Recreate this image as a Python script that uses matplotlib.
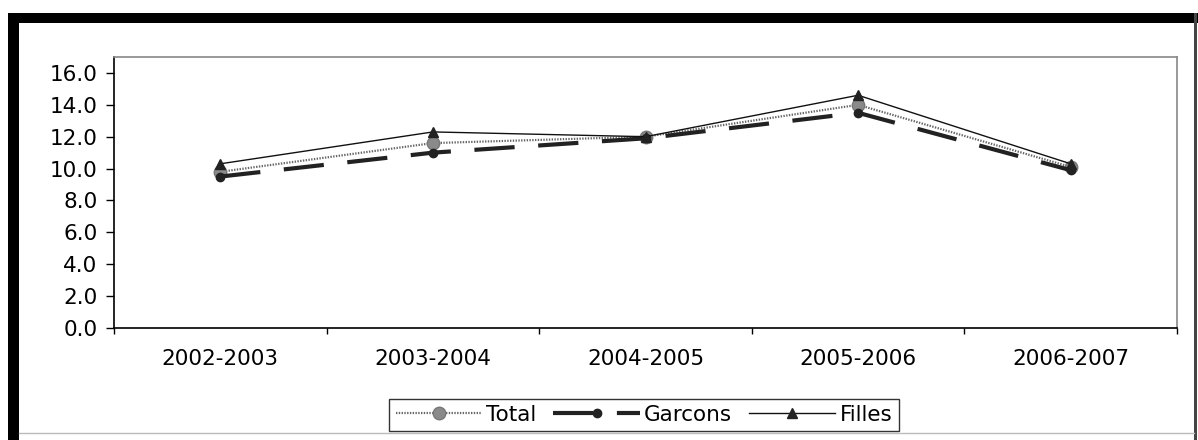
import numpy as np
import matplotlib
matplotlib.use("Agg")
import matplotlib.pyplot as plt
from matplotlib.patches import Rectangle
from matplotlib.lines import Line2D

plt.rcParams['font.family'] = ['DejaVu Sans']
plt.rcParams['lines.scale_dashes'] = False

years = ["2002-2003", "2003-2004", "2004-2005", "2005-2006", "2006-2007"]
total = [9.8, 11.6, 12.0, 14.0, 10.1]
garcons = [9.5, 11.0, 11.9, 13.5, 9.9]
filles = [10.3, 12.3, 12.0, 14.6, 10.3]

W, H = 1198, 440
fig = plt.figure(figsize=(W / 100, H / 100), dpi=100)
fig.patch.set_facecolor("white")

# plot area in pixel units
left, right, top, bottom = 114, 1177, 57, 328
ax = fig.add_axes([left / W, 1 - bottom / H, (right - left) / W, (bottom - top) / H])

x = np.arange(len(years))
ax.plot(x, total, color="#666666", lw=1.6, linestyle=(0, (1, 1)),
        marker="o", ms=9, mfc="#8a8a8a", mec="#777777", label="Total")
ax.plot(x, garcons, color="#222222", lw=3, linestyle=(0, (29, 17)),
        marker="o", ms=6, mfc="#222222", mec="#222222", label="Garcons")
ax.plot(x, filles, color="#111111", lw=1,
        marker="^", ms=7, mfc="#222222", mec="#222222", label="Filles")

ax.set_xlim(-0.5, len(years) - 0.5)
ax.set_ylim(0, 17)
ax.set_yticks(np.arange(0, 17, 2))
ax.set_yticklabels([f"{v:.1f}" for v in np.arange(0, 17, 2)])
ax.set_xticks(x)
ax.set_xticklabels(years)
ax.set_xticks(np.arange(-0.5, len(years), 1), minor=True)
ax.tick_params(axis="x", which="major", length=0, pad=15, labelsize=15.5)
ax.tick_params(axis="x", which="minor", length=4, width=1, direction="out")
ax.tick_params(axis="y", length=6, width=1, pad=6, labelsize=15.5)

for s in ["left", "bottom"]:
    ax.spines[s].set_color("black")
    ax.spines[s].set_linewidth(1.2)
for s in ["top", "right"]:
    ax.spines[s].set_color("#888888")
    ax.spines[s].set_linewidth(1.2)

leg = fig.legend(loc="center", bbox_to_anchor=(644 / W, 1 - 415 / H),
                 ncol=3, fontsize=15.5, frameon=True, fancybox=False,
                 handlelength=4.0, handletextpad=0.2, columnspacing=0.8,
                 borderpad=0.3)
leg.get_frame().set_edgecolor("black")
leg.get_frame().set_linewidth(1)

# black border around the chart
fig.add_artist(Rectangle((8 / W, 0), 11 / W, 1 - 13 / H, transform=fig.transFigure,
                         color="black", lw=0))
fig.add_artist(Rectangle((8 / W, 1 - 23 / H), 1 - 8 / W, 10 / H, transform=fig.transFigure,
                         color="black", lw=0))
fig.add_artist(Rectangle((1194 / W, 0), 3 / W, 1 - 13 / H, transform=fig.transFigure,
                         color="#444444", lw=0))
fig.add_artist(Line2D([19 / W, 1194 / W], [1 - 433 / H, 1 - 433 / H],
                      transform=fig.transFigure, color="#bbbbbb", lw=1))

fig.savefig("out.png", dpi=100)
